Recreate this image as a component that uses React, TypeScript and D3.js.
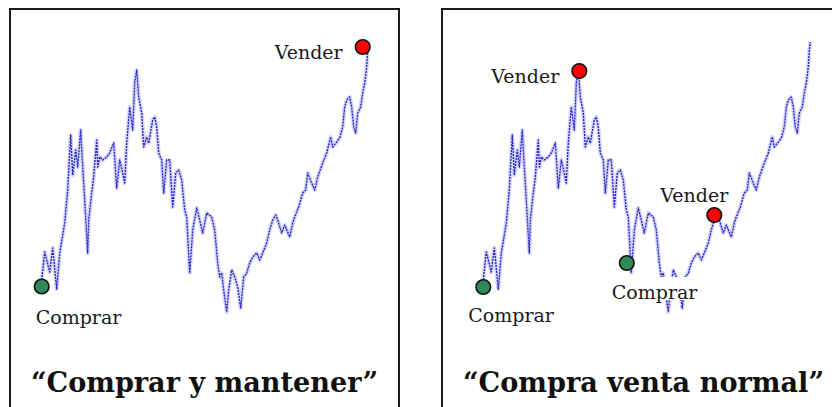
import React from 'react';
import * as d3 from 'd3';

// precio (días desde la compra inicial)
const dias = [
  0, 3, 8, 11, 15, 18, 23, 26, 29, 31, 34, 36, 39, 40, 43, 46, 47, 50, 52, 55,
  56, 58, 61, 65, 68, 72, 75, 78, 81, 83, 85, 88, 91, 93, 95, 97, 100, 102, 105, 107,
  111, 113, 115, 117, 120, 122, 125, 128, 131, 134, 137, 140, 143, 145, 148, 151, 155, 158, 161, 165,
  170, 173, 176, 178, 180, 182, 185, 187, 190, 193, 196, 199, 202, 205, 208, 211, 215, 218, 221, 225,
  228, 231, 234, 236, 240, 243, 248, 251, 253, 257, 261, 264, 266, 270, 273, 276, 281, 285, 289, 291,
  295, 298, 301, 303, 305, 308, 310, 312, 314, 316, 319, 321, 323, 325, 326, 327,
];
const precio = [
  50, 78, 58, 82, 41, 77, 107, 140, 195, 155, 180, 163, 200, 180, 130, 77, 110, 137, 153, 190,
  163, 173, 170, 173, 177, 187, 142, 170, 157, 147, 187, 223, 200, 247, 260, 233, 217, 183, 193, 187,
  210, 213, 203, 177, 170, 137, 170, 170, 123, 157, 160, 150, 120, 113, 57, 100, 122, 110, 97, 117,
  113, 100, 67, 53, 57, 40, 18, 40, 60, 53, 43, 22, 53, 57, 67, 73, 77, 70, 77, 87,
  100, 110, 115, 110, 97, 105, 93, 107, 113, 123, 137, 140, 157, 147, 140, 153, 167, 177, 193, 183,
  188, 192, 203, 223, 230, 233, 223, 203, 197, 217, 223, 237, 247, 263, 280, 288,
];

const titulos = ['“Comprar y mantener”', '“Compra venta normal”'];

// señales: panel, tipo, día, precio
const senalPanel = [0, 0, 1, 1, 1, 1];
const senalTipo = ['Comprar', 'Vender', 'Comprar', 'Vender', 'Comprar', 'Vender'];
const senalDia = [0, 321, 0, 96, 143.5, 231];
const senalPrecio = [43.5, 283, 43, 259, 67, 115];

const W = 832;
const H = 407;

const panels = [
  { left: 10, right: 399, x0: 41.7, title: titulos[0], tx: 31, tw: 347 },
  { left: 442, right: 840, x0: 483.3, title: titulos[1], tx: 463, tw: 361 },
];

// posiciones de etiquetas relativas al punto
const labelPos = [
  { dx: -6, dy: 37 },
  { dx: -88, dy: 12 },
  { dx: -15, dy: 35 },
  { dx: -88, dy: 12 },
  { dx: -15, dy: 36 },
  { dx: -54, dy: -13 },
];

const y = d3.scaleLinear().domain([0, 300]).range([330, 30]);

export default function App() {
  const pts = dias.map((d, i) => ({ d, p: precio[i] }));
  return (
    <svg
      width={W}
      height={H}
      style={{ position: 'absolute', left: 0, top: 0, background: '#fff' }}
      fontFamily="'DejaVu Serif', serif"
    >
      {panels.map((pn, k) => {
        const x = d3.scaleLinear().domain([0, 330]).range([pn.x0, pn.x0 + 330]);
        const line = d3.line<{ d: number; p: number }>()
          .x(v => x(v.d))
          .y(v => y(v.p));
        const path = line(pts) ?? '';
        return (
          <g key={k}>
            <rect x={pn.left} y={9} width={pn.right - pn.left} height={H + 20}
              fill="#fff" stroke="#1c1c1c" strokeWidth={2} />
            <path d={path} fill="none" stroke="#8080e8" strokeOpacity={0.35} strokeWidth={4} strokeLinejoin="round" />
            <path d={path} fill="none" stroke="#1f1fc4" strokeWidth={1.3} strokeDasharray="2 1"
              strokeLinejoin="round" />
            {k === 1 && <rect x={655} y={277} width={45} height={23} fill="#fff" />}
            {senalTipo.map((t, i) => senalPanel[i] !== k ? null : (
              <g key={i}>
                <circle cx={x(senalDia[i])} cy={y(senalPrecio[i])} r={7.3}
                  fill={t === 'Comprar' ? '#2e8b57' : '#ff0000'} stroke="#111" strokeWidth={1.6} />
                <text x={x(senalDia[i]) + labelPos[i].dx} y={y(senalPrecio[i]) + labelPos[i].dy}
                  fontSize={19} fill="#1a1a1a">{t}</text>
              </g>
            ))}
            <text x={pn.tx} y={392} fontSize={27} fontWeight="bold" fill="#111"
              textLength={pn.tw} lengthAdjust="spacingAndGlyphs">{pn.title}</text>
          </g>
        );
      })}
    </svg>
  );
}
